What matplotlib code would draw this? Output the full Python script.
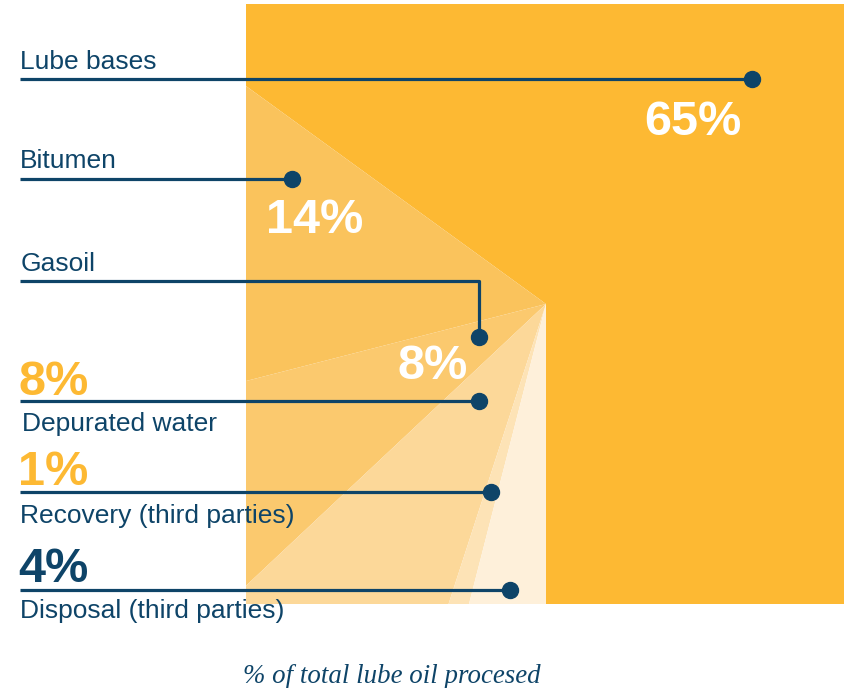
import matplotlib
matplotlib.use("Agg")
import matplotlib.pyplot as plt

# Destination of processed lube oil (% of total)
categories = ["Lube bases", "Bitumen", "Gasoil", "Depurated water",
              "Recovery (third parties)", "Disposal (third parties)"]
shares = [65, 14, 8, 8, 1, 4]
share_labels = ["65%", "14%", "8%", "8%", "1%", "4%"]
slice_colors = ["#FDB933", "#FAC35C", "#FBC96E", "#FCD899", "#FDE3B6", "#FEF0DA"]

NAVY = "#0E4468"
ORANGE = "#FDB933"
FONT = "Liberation Sans"

W, H = 845, 688
fig = plt.figure(figsize=(W / 100, H / 100), dpi=100)

# Square panel holding the pie; the axes box clips the wedges to the square
cx, cy = 546, 304
side = 600
left, top = cx - side / 2, cy - side / 2
pax = fig.add_axes([left / W, (H - top - side) / H, side / W, side / H])
wedges, _ = pax.pie(shares, colors=slice_colors, startangle=90, counterclock=False,
                    radius=1000, center=(cx, cy), frame=True,
                    wedgeprops=dict(linewidth=0))
for w in wedges:
    w.set_clip_on(True)
    w.set_clip_path(pax.patch)
pax.set_xlim(left, left + side)
pax.set_ylim(top + side, top)
pax.set_aspect("auto")
pax.axis("off")

# Overlay axes in pixel units for leaders and labels
ax = fig.add_axes([0, 0, 1, 1])
ax.set_xlim(0, W)
ax.set_ylim(H, 0)
ax.patch.set_alpha(0)
ax.axis("off")

# Leader lines with end dots: (y of line, dot x, dot y)
leaders = [(79, 752, 79), (179, 292, 179), (281, 479, 337),
           (401, 479, 401), (492, 491, 492), (590, 510, 590)]
for (ly, dx, dy) in leaders:
    if dy != ly:
        ax.plot([20, dx, dx], [ly, ly, dy], color=NAVY, lw=2.3, solid_capstyle="butt", zorder=3)
    else:
        ax.plot([20, dx], [ly, ly], color=NAVY, lw=2.3, solid_capstyle="butt", zorder=3)
    ax.plot(dx, dy, "o", color=NAVY, ms=11.5, zorder=4)

# Category names
name_pos = [(20, 69), (20, 168), (21, 271), (22, 431), (20, 523), (20, 618)]
for name, (x, y) in zip(categories, name_pos):
    ax.text(x, y, name, color=NAVY, fontsize=19, family=FONT, va="baseline", ha="left")

# Percent labels inside the slices
inside = {0: (693, 135), 1: (315, 233), 2: (433, 379)}
for i, (x, y) in inside.items():
    ax.text(x, y, share_labels[i], color="white", fontsize=35, fontweight="bold",
            family=FONT, ha="center", va="baseline", zorder=5)

# Percent labels on the left for the small slices
outside = {3: (19, 395, ORANGE), 4: (18, 485, ORANGE), 5: (18, 582, NAVY)}
for i, (x, y, c) in outside.items():
    ax.text(x, y, share_labels[i], color=c, fontsize=35, fontweight="bold",
            family=FONT, ha="left", va="baseline")

ax.text(392, 683, "% of total lube oil procesed", color=NAVY, fontsize=19.4,
        family="Liberation Serif", style="italic", ha="center", va="baseline")

fig.savefig("out.png", dpi=100)
